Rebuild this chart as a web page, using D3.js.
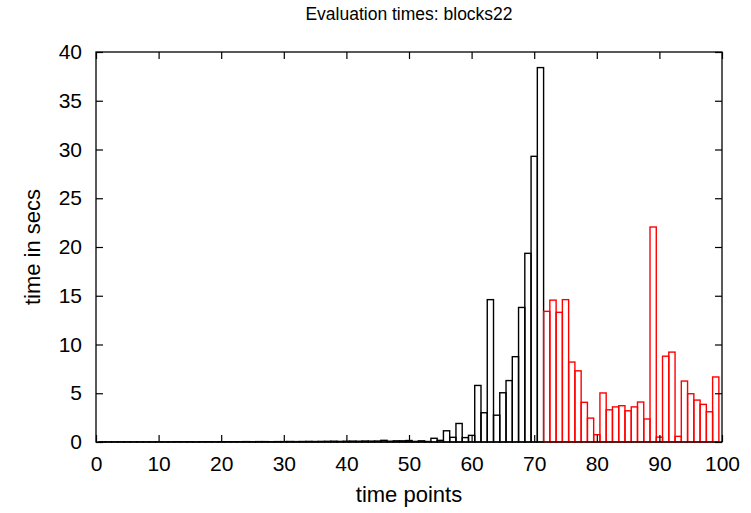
<!DOCTYPE html>
<html>
<head>
<meta charset="utf-8">
<script src="https://cdn.jsdelivr.net/npm/d3@7"></script>
<style>
  html, body { margin: 0; padding: 0; background: #fff; }
  text { font-family: "Liberation Sans", Arial, Helvetica, sans-serif; fill: #000; }
</style>
</head>
<body>
<svg id="chart" width="751" height="513"></svg>
<script>
// ---- data ----
const chartTitle = "Evaluation times: blocks22";
const xLabel = "time points";
const yLabel = "time in secs";
const xTicks = [0, 10, 20, 30, 40, 50, 60, 70, 80, 90, 100];
const yTicks = [0, 5, 10, 15, 20, 25, 30, 35, 40];
// black series: time points 1..71
const blackStart = 1;
const blackValues = [
  0.02, 0.02, 0.02, 0.02, 0.02, 0.02, 0.02, 0.02, 0.02, 0.02,
  0.02, 0.02, 0.03, 0.02, 0.03, 0.02, 0.03, 0.03, 0.02, 0.03,
  0.03, 0.03, 0.03, 0.04, 0.03, 0.04, 0.04, 0.03, 0.04, 0.04,
  0.05, 0.04, 0.05, 0.06, 0.05, 0.06, 0.07, 0.08, 0.06, 0.08,
  0.09, 0.08, 0.1, 0.09, 0.1, 0.17, 0.08, 0.12, 0.12, 0.15,
  0.06, 0.12, 0.05, 0.38, 0.17, 1.15, 0.48, 1.9, 0.45, 0.68,
  5.8, 3.0, 14.6, 2.75, 5.05, 6.3, 8.75, 13.8, 19.35, 29.3,
  38.4
];
// red series: time points 72..99
const redStart = 72;
const redValues = [
  13.4, 14.55, 13.3, 14.6, 8.2, 7.3, 4.07, 2.45, 0.75, 5.03,
  3.3, 3.6, 3.72, 3.2, 3.6, 4.1, 2.36, 22.05, 0.5, 8.8,
  9.22, 0.58, 6.25, 4.95, 4.3, 3.86, 3.1, 6.67
];

// ---- layout ----
const svg = d3.select("#chart");
const L = 96, R = 722, T = 52, B = 442;
const x = d3.scaleLinear().domain([0, 100]).range([L, R]);
const y = d3.scaleLinear().domain([0, 40]).range([B, T]);

function series(start, values) {
  return values.map((v, i) => ({ t: start + i, v }));
}

function drawBars(data, color) {
  svg.append("g").selectAll("rect").data(data).join("rect")
    .attr("x", d => x(d.t - 0.5))
    .attr("width", d => x(d.t + 0.5) - x(d.t - 0.5))
    .attr("y", d => y(d.v))
    .attr("height", d => y(0) - y(d.v))
    .attr("fill", "none")
    .attr("stroke", color)
    .attr("stroke-width", 1.4);
}

drawBars(series(blackStart, blackValues), "#000");
drawBars(series(redStart, redValues), "#ff0000");

// axes (inward ticks on all four sides)
const tickLen = 7;
const fontSize = 21;
const axBottom = svg.append("g").attr("transform", `translate(0,${B})`)
  .call(d3.axisBottom(x).tickValues(xTicks).tickSize(-tickLen).tickPadding(14));
const axTop = svg.append("g").attr("transform", `translate(0,${T})`)
  .call(d3.axisTop(x).tickValues(xTicks).tickSize(-tickLen).tickFormat(""));
const axLeft = svg.append("g").attr("transform", `translate(${L},0)`)
  .call(d3.axisLeft(y).tickValues(yTicks).tickSize(-tickLen).tickPadding(14));
const axRight = svg.append("g").attr("transform", `translate(${R},0)`)
  .call(d3.axisRight(y).tickValues(yTicks).tickSize(-tickLen).tickFormat(""));

[axBottom, axTop, axLeft, axRight].forEach(g => {
  g.select(".domain").remove();
  g.selectAll("line").attr("stroke", "#000").attr("stroke-width", 1.2);
  g.selectAll("text").style("font-size", fontSize + "px")
    .style("font-family", '"Liberation Sans", Arial, sans-serif').attr("fill", "#000");
});
axBottom.selectAll("text").attr("dy", "0.71em");

// frame
svg.append("rect")
  .attr("x", L).attr("y", T).attr("width", R - L).attr("height", B - T)
  .attr("fill", "none").attr("stroke", "#000").attr("stroke-width", 1.3);

// title and labels
svg.append("text").attr("x", (L + R) / 2).attr("y", 20)
  .attr("text-anchor", "middle").style("font-size", "17.5px").text(chartTitle);
svg.append("text").attr("x", (L + R) / 2).attr("y", 502)
  .attr("text-anchor", "middle").style("font-size", "22px").text(xLabel);
svg.append("text").attr("transform", `translate(40,${(T + B) / 2}) rotate(-90)`)
  .attr("text-anchor", "middle").style("font-size", "22px").text(yLabel);
</script>
</body>
</html>
